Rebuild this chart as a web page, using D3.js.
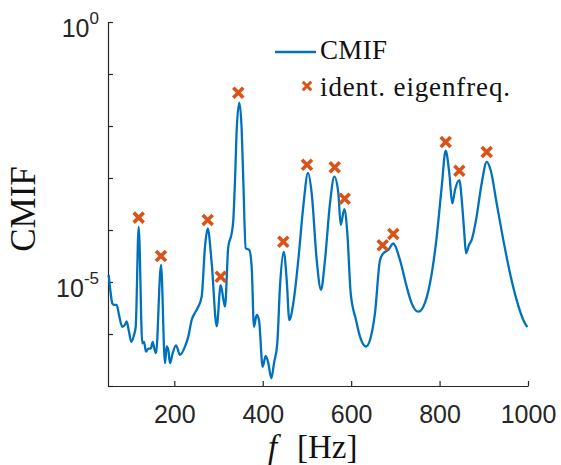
<!DOCTYPE html>
<html>
<head>
<meta charset="utf-8">
<script src="https://cdn.jsdelivr.net/npm/d3@7"></script>
<style>
    body { margin: 0; background: #ffffff; }
    svg { display: block; }
</style>
</head>
<body>
<svg id="cmifSVG"></svg>
<script>

//data - frequency [Hz] and CMIF value
let freq = [51.6, 56.1, 59.7, 63.6, 69.7, 74.9, 82.3, 87.8, 92.3, 97.5, 102.7, 108.8, 112.7, 119.4,
    127.6, 131.4, 136.0, 141.2, 146.6, 151.1, 154.7, 158.6, 169.9, 178.9, 182.8, 186.4, 190.2, 196.3,
    203.8, 212.9, 224.2, 231.6, 239.3, 246.8, 254.2, 261.9, 269.4, 275.5, 284.6, 295.9, 304.9, 314.6,
    322.1, 329.8, 333.4, 337.3, 341.1, 347.0, 352.4, 356.0, 361.5, 369.6, 375.0, 380.2, 386.3, 391.5,
    399.9, 406.7, 412.6, 419.4, 425.5, 432.9, 439.0, 447.4, 454.2, 460.1, 469.1, 480.4, 491.7, 502.4,
    510.7, 522.1, 531.8, 540.8, 552.1, 561.9, 571.0, 576.3, 584.5, 591.3, 599.0, 611.0, 620.0, 633.6,
    642.6, 653.9, 665.2, 672.7, 684.0, 695.3, 710.5, 725.6, 736.9, 751.9, 763.2, 778.3, 793.5, 804.8,
    813.8, 822.0, 828.8, 834.9, 844.6, 851.4, 855.9, 859.8, 866.5, 872.6, 882.4, 895.3, 906.6, 915.6,
    929.2, 944.1, 959.3, 974.4, 989.4, 998.4];

let cmif = [1.37e-5, 6.07e-6, 3.89e-6, 3.63e-6, 3.63e-6, 2.32e-6, 1.38e-6, 1.48e-6, 1.74e-6, 1.10e-6, 7.08e-7, 9.55e-7, 1.38e-6, 1.15e-4,
    6.61e-7, 7.08e-7, 4.57e-7, 5.25e-7, 5.25e-7, 7.08e-7, 5.25e-7, 4.27e-7, 2.14e-5, 2.75e-7, 5.75e-7, 4.90e-7, 2.75e-7, 4.27e-7,
    6.03e-7, 3.98e-7, 5.75e-7, 8.91e-7, 1.86e-6, 2.57e-6, 3.35e-6, 5.25e-6, 4.79e-5, 1.07e-4, 2.29e-5, 1.41e-6, 8.71e-6, 3.35e-6,
    4.79e-5, 8.71e-5, 1.55e-4, 9.12e-4, 8.32e-3, 2.82e-2, 8.32e-3, 9.12e-4, 4.47e-5, 4.12e-5, 1.95e-5, 1.38e-6, 2.32e-6, 1.86e-6,
    2.34e-7, 3.80e-7, 2.75e-7, 1.41e-7, 2.75e-7, 6.61e-7, 8.13e-6, 3.80e-5, 1.10e-5, 1.86e-6, 3.89e-6, 2.63e-5, 2.82e-4, 1.26e-3,
    5.13e-4, 2.63e-5, 7.08e-6, 2.63e-5, 3.24e-4, 1.06e-3, 5.13e-4, 1.26e-4, 2.51e-4, 8.71e-5, 6.03e-6, 1.86e-6, 8.91e-7, 5.75e-7,
    7.67e-7, 2.51e-6, 2.63e-5, 3.55e-5, 4.12e-5, 5.50e-5, 2.63e-5, 8.13e-6, 3.89e-6, 2.69e-6, 3.35e-6, 9.44e-6, 7.41e-5, 6.76e-4,
    3.35e-3, 1.23e-3, 3.24e-4, 5.89e-4, 9.12e-4, 2.82e-4, 8.71e-5, 3.55e-5, 5.13e-5, 6.46e-5, 1.55e-4, 7.94e-4, 2.04e-3, 1.41e-3,
    3.24e-4, 6.46e-5, 1.48e-5, 4.47e-6, 1.86e-6, 1.35e-6];

//identified eigenfrequencies
let eigFreq = [119.4, 169.9, 275.5, 304.9, 344.7, 446.5, 500.1, 562.8, 585.4, 671.3, 695.3, 813.8, 844.6, 906.6];
let eigCmif = [1.73e-4, 3.16e-5, 1.56e-4, 1.26e-5, 4.37e-2, 5.96e-5, 1.80e-3, 1.61e-3, 4.00e-4, 5.08e-5, 8.38e-5, 4.92e-3, 1.38e-3, 3.16e-3];

let xTicks = [200, 400, 600, 800, 1000];
let yTicks = [1e-7, 1e-6, 1e-5, 1e-4, 1e-3, 1e-2, 1e-1, 1e0];
let yLabels = [{v: 1e0, exp: "0"}, {v: 1e-5, exp: "-5"}];

let legendNames = ["CMIF", "ident. eigenfreq."];

function drawChart() {

    let margin = {top: 22, right: 33, bottom: 79, left: 108};
    let width = 561 - margin.left - margin.right;
    let height = 465 - margin.top - margin.bottom;

    let blue = "#0072bd";
    let orange = "#d95319";
    let axisColor = "#262626";

    //canvas
    let svg = d3.select("#cmifSVG")
        .attr("width", 561)
        .attr("height", 465)
        .style("background-color", "#ffffff");

    let g = svg.append("g")
        .attr("transform", "translate(" + margin.left + "," + margin.top + ")");

    let x = d3.scaleLinear().domain([50, 1000]).range([0, width]);
    let y = d3.scaleLog().domain([1e-7, 1e0]).range([height, 0]);

    //axes
    let xAxis = g.append("g")
        .attr("transform", "translate(0," + height + ")")
        .call(d3.axisBottom(x).tickValues(xTicks).tickFormat(d3.format("d"))
            .tickSize(-5).tickSizeOuter(0).tickPadding(19));

    let yAxis = g.append("g")
        .call(d3.axisLeft(y).tickValues(yTicks).tickSize(-5).tickSizeOuter(0).tickFormat(() => ""));

    [xAxis, yAxis].forEach(function(a) {
        a.selectAll("path, line").attr("stroke", axisColor).attr("stroke-width", 1.2);
    });

    xAxis.selectAll("text")
        .style("font-family", "'Liberation Sans', Arial, sans-serif")
        .style("font-size", "25px")
        .attr("fill", axisColor);

    //y tick labels 10^n
    let yLab = g.selectAll(".ylab")
        .data(yLabels)
        .enter()
        .append("text")
        .attr("class", "ylab")
        .attr("x", -9)
        .attr("y", d => y(d.v) + 15)
        .attr("text-anchor", "end")
        .style("font-family", "'Liberation Sans', Arial, sans-serif")
        .style("font-size", "25px")
        .attr("fill", axisColor);

    yLab.append("tspan").text("10");
    yLab.append("tspan")
        .attr("dy", -13)
        .style("font-size", "17px")
        .text(d => d.exp);

    //CMIF line
    let line = d3.line()
        .x((d, i) => x(freq[i]))
        .y(d => y(d))
        .curve(d3.curveMonotoneX);

    g.append("path")
        .datum(cmif)
        .attr("d", line)
        .attr("fill", "none")
        .attr("stroke", blue)
        .attr("stroke-width", 2.3)
        .attr("stroke-linejoin", "round");

    //markers
    let cross = "M-5,-5L5,5M-5,5L5,-5";

    g.selectAll(".eig")
        .data(eigFreq)
        .enter()
        .append("path")
        .attr("class", "eig")
        .attr("d", cross)
        .attr("transform", (d, i) => "translate(" + x(d) + "," + y(eigCmif[i]) + ")")
        .attr("fill", "none")
        .attr("stroke", orange)
        .attr("stroke-width", 3.6);

    //axis labels
    svg.append("text")
        .attr("transform", "translate(35,209) rotate(-90)")
        .attr("text-anchor", "middle")
        .style("font-family", "'Liberation Serif', 'Times New Roman', serif")
        .style("font-size", "35px")
        .attr("fill", "#111111")
        .text("CMIF");

    svg.append("text")
        .attr("x", 268)
        .attr("y", 458)
        .style("font-family", "'Liberation Serif', 'Times New Roman', serif")
        .style("font-size", "33px")
        .style("font-style", "italic")
        .attr("fill", "#111111")
        .text("f");

    svg.append("text")
        .attr("x", 297)
        .attr("y", 458)
        .style("font-family", "'Liberation Serif', 'Times New Roman', serif")
        .style("font-size", "33px")
        .attr("fill", "#111111")
        .text("[Hz]");

    //legend
    let legend = svg.append("g");

    legend.append("line")
        .attr("x1", 275).attr("x2", 316)
        .attr("y1", 52).attr("y2", 52)
        .attr("stroke", blue)
        .attr("stroke-width", 2.3);

    legend.append("path")
        .attr("d", cross)
        .attr("transform", "translate(307,86) scale(0.85)")
        .attr("fill", "none")
        .attr("stroke", orange)
        .attr("stroke-width", 3.6);

    legend.selectAll(".legText")
        .data(legendNames)
        .enter()
        .append("text")
        .attr("class", "legText")
        .attr("x", 320)
        .attr("y", (d, i) => i == 0 ? 59 : 96)
        .attr("textLength", (d, i) => i == 0 ? 67 : 190)
        .attr("lengthAdjust", "spacing")
        .style("font-family", "'Liberation Serif', 'Times New Roman', serif")
        .style("font-size", "27px")
        .attr("fill", "#111111")
        .text(d => d);
}

drawChart();
</script>
</body>
</html>
